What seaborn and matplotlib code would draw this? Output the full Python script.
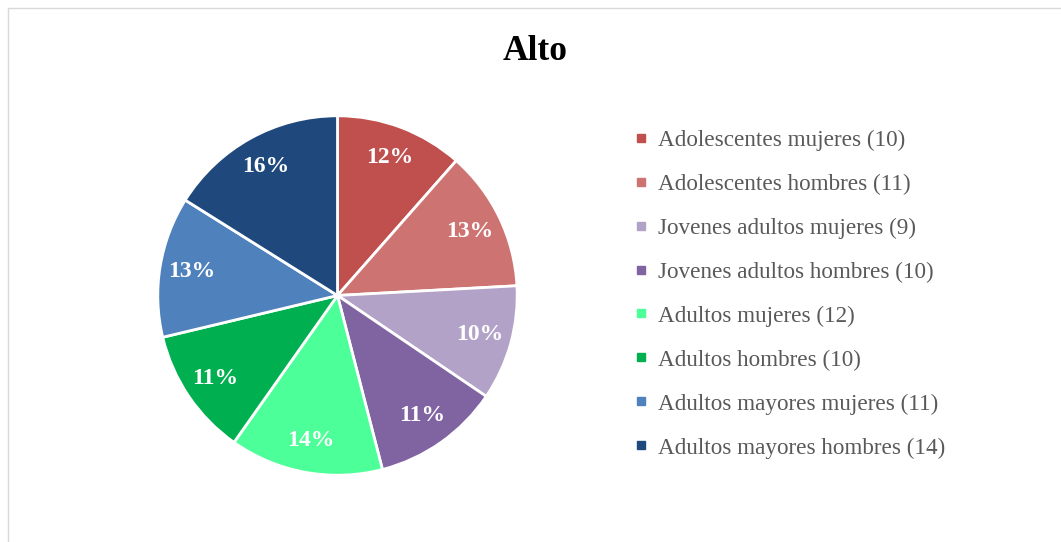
import numpy as np
import matplotlib
matplotlib.use("Agg")
import matplotlib.pyplot as plt
from matplotlib.lines import Line2D
from matplotlib.patches import Rectangle
import seaborn as sns

# Group names and counts for the "Alto" level
categories = [
    "Adolescentes mujeres",
    "Adolescentes hombres",
    "Jovenes adultos mujeres",
    "Jovenes adultos hombres",
    "Adultos mujeres",
    "Adultos hombres",
    "Adultos mayores mujeres",
    "Adultos mayores hombres",
]
counts = [10, 11, 9, 10, 12, 10, 11, 14]
colors = ["#C0504D", "#CD7371", "#B3A2C7", "#8064A2",
          "#4CFF98", "#00B050", "#4F81BD", "#1F497D"]
title = "Alto"

sns.set_theme(style="white")
plt.rcParams["font.family"] = ["Liberation Serif", "DejaVu Serif"]


def rounded_percents(values):
    """Whole-number percentages that add up to 100 (largest remainder)."""
    vals = np.asarray(values, dtype=float)
    raw = vals / vals.sum() * 100
    base = np.floor(raw).astype(int)
    rem = raw - base
    missing = 100 - base.sum()
    order = sorted(range(len(vals)), key=lambda i: -rem[i])
    for i in order[:missing]:
        base[i] += 1
    return base


pcts = rounded_percents(counts)

W, H = 1061, 542
fig = plt.figure(figsize=(W / 100, H / 100), dpi=100)
fig.patch.set_facecolor("white")

# chart-area outline
fig.add_artist(Rectangle((7.5 / W, -0.2), 1.5, 1.2 - 7.5 / H,
                         transform=fig.transFigure, fill=False,
                         edgecolor="#D9D9D9", linewidth=1.0))

cx, cy, r = 337.5, 295.5, 181.5
ax = fig.add_axes([(cx - r) / W, (H - cy - r) / H, 2 * r / W, 2 * r / H])

wedges, texts = ax.pie(
    counts,
    colors=colors,
    startangle=90,
    counterclock=False,
    radius=1.0,
    wedgeprops=dict(edgecolor="white", linewidth=2.0),
)
for w, p in zip(wedges, pcts):
    ang = np.deg2rad((w.theta1 + w.theta2) / 2)
    ax.text(0.82 * np.cos(ang), 0.82 * np.sin(ang), f"{p}%",
            ha="center", va="center", color="white",
            fontsize=17, fontweight="bold")
ax.set_xlim(-1.01, 1.01)
ax.set_ylim(-1.01, 1.01)
ax.set_aspect("equal")
ax.axis("off")

fig.text(535.5 / W, 1 - 60 / H, title, ha="center", va="baseline",
         fontsize=25.5, fontweight="bold", color="black")

handles = [Line2D([], [], marker="s", linestyle="", markersize=6,
                  markerfacecolor=c, markeredgecolor=c) for c in colors]
labels = [f"{c} ({n})" for c, n in zip(categories, counts)]
leg = fig.legend(handles, labels, loc="upper left",
                 bbox_to_anchor=(634 / W, 1 - 129.5 / H),
                 frameon=False, fontsize=16.7, labelspacing=0.98,
                 handlelength=0.6, handletextpad=0.45, borderpad=0,
                 borderaxespad=0)
for t in leg.get_texts():
    t.set_color("#595959")

fig.savefig("out.png", dpi=100, facecolor="white")
